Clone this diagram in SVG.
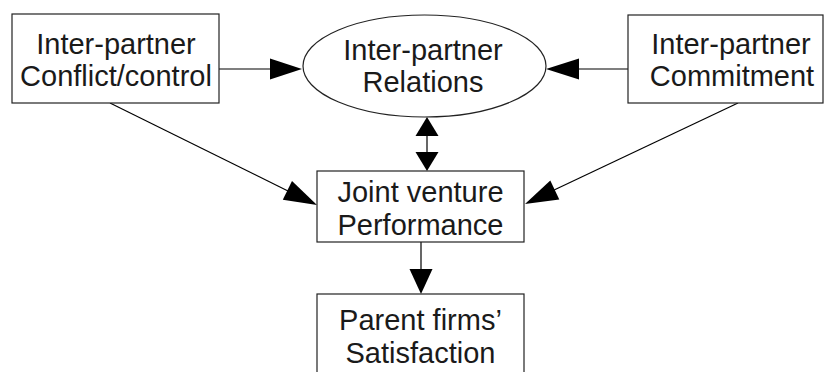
<svg xmlns="http://www.w3.org/2000/svg" width="824" height="372" viewBox="0 0 824 372">
<style>
.box{fill:#fff;stroke:#222;stroke-width:1.2}
.t{font-family:"Liberation Sans",Arial,sans-serif;font-size:29px;fill:#1a1a1a;text-anchor:middle}
.ln{stroke:#000;stroke-width:1.2;fill:none}
.ah{fill:#000;stroke:none}
</style>
<rect width="824" height="372" fill="#fff"/>
<g id="connectors">
<line class="ln" x1="219" y1="69" x2="272" y2="69"/>
<polygon class="ah" points="302,69 270,58.5 270,79.5"/>
<line class="ln" x1="628" y1="69" x2="577" y2="69"/>
<polygon class="ah" points="546,69 579,58.5 579,79.5"/>
<line class="ln" x1="427" y1="133" x2="427" y2="155"/>
<polygon class="ah" points="427,117 415.5,136 438.5,136"/>
<polygon class="ah" points="427,171 415.5,152 438.5,152"/>
<line class="ln" x1="421" y1="242" x2="421" y2="272"/>
<polygon class="ah" points="421,294 409.5,269 432.5,269"/>
<line class="ln" x1="110" y1="103" x2="290" y2="192"/>
<polygon class="ah" points="317,205 292,181 282.8,199.8"/>
<line class="ln" x1="738" y1="103" x2="552" y2="191"/>
<polygon class="ah" points="525,204 550.3,180.4 559.3,199.4"/>
</g>
<g id="n-conflict">
<rect class="box" x="12" y="14" width="207" height="89"/>
<text class="t" x="116" y="54">Inter-partner</text>
<text class="t" x="116" y="86">Conflict/control</text>
</g>
<g id="n-relations">
<ellipse class="box" cx="424.5" cy="66" rx="121.5" ry="51"/>
<text class="t" x="423" y="60">Inter-partner</text>
<text class="t" x="423" y="92">Relations</text>
</g>
<g id="n-commitment">
<rect class="box" x="628" y="15" width="195" height="88"/>
<text class="t" x="731" y="54">Inter-partner</text>
<text class="t" x="732" y="86">Commitment</text>
</g>
<g id="n-performance">
<rect class="box" x="317" y="171" width="207" height="71"/>
<text class="t" x="420.5" y="202">Joint venture</text>
<text class="t" x="420.5" y="235">Performance</text>
</g>
<g id="n-satisfaction">
<rect class="box" x="317" y="294" width="207" height="90"/>
<text class="t" x="420.5" y="330">Parent firms’</text>
<text class="t" x="420.5" y="363">Satisfaction</text>
</g>
</svg>
